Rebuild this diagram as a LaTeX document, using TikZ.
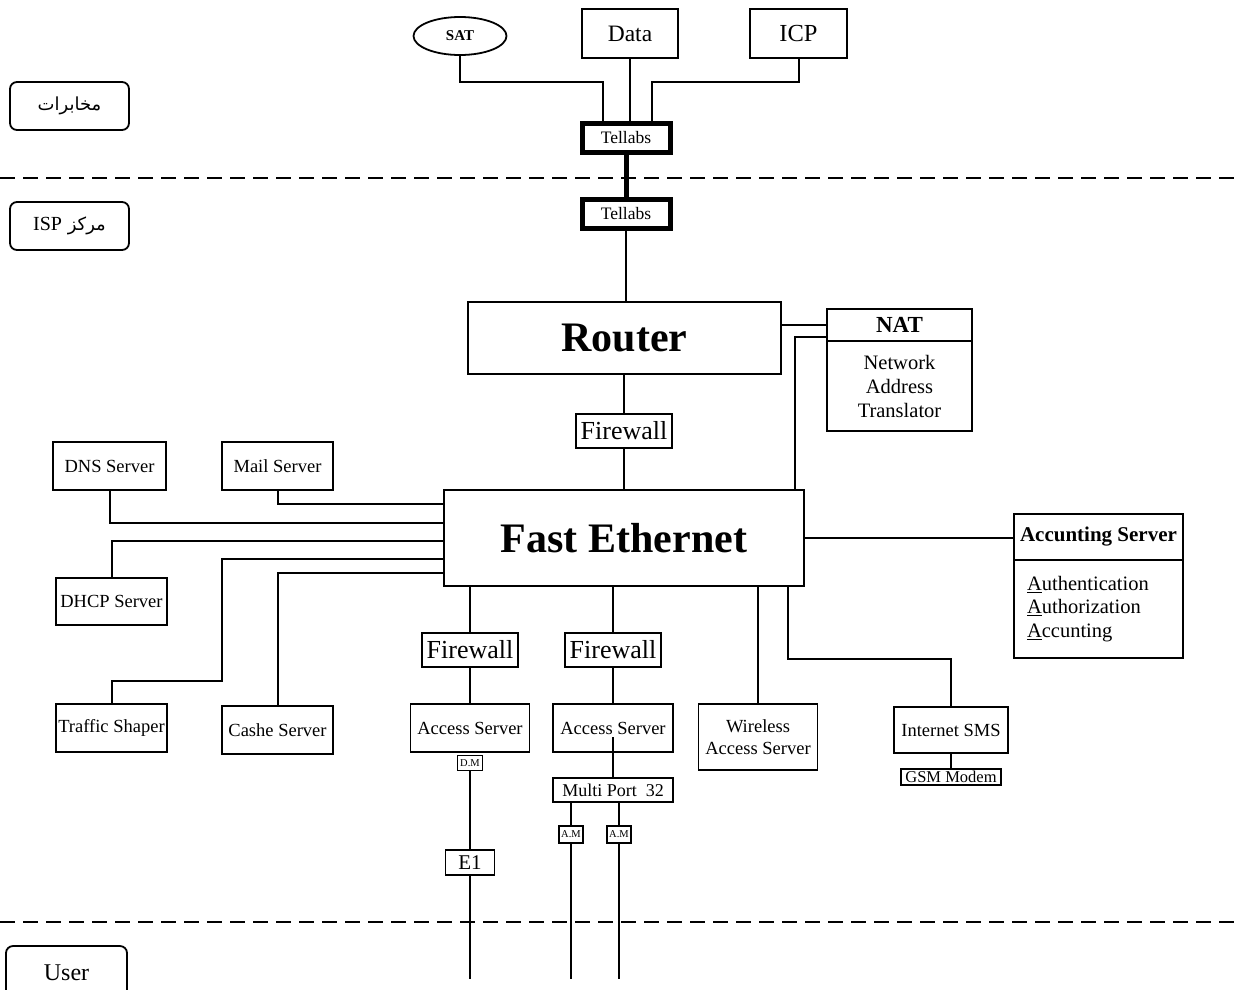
\documentclass[tikz,border=0pt]{standalone}
\usepackage{fontspec}
\setmainfont{Liberation Serif}
\newfontfamily\arabicfont[Script=Arabic]{DejaVu Sans}
\TeXXeTstate=1
\usepackage{tikz}
\usetikzlibrary{shapes.geometric}
\newcommand{\fsz}[2]{\fontsize{#1}{#2}\selectfont}

\begin{document}
\begin{tikzpicture}[x=1pt, y=-1pt,
    box/.style={draw, line width=1.8pt, fill=white, inner sep=0pt, align=center},
    telbox/.style={box, line width=5pt, minimum width=88pt, minimum height=29pt, font=\fsz{17.5}{20}},
    zone/.style={box, rounded corners=7pt, minimum width=119pt, minimum height=48pt},
    srv/.style={box, minimum height=48pt, font=\fsz{18.5}{22}},
    wall/.style={box, minimum width=96pt, minimum height=34pt, font=\fsz{26}{30}},
    tag/.style={box, line width=1.5pt, minimum height=15pt, font=\fsz{10.5}{12}},
    link/.style={line width=2pt},
    sepline/.style={line width=1.8pt, dash pattern=on 15pt off 8pt}]
    \useasboundingbox (0,0) rectangle (1242,989);
    \clip (0,0) rectangle (1242,989);
    % zone separators
    \draw[sepline] (0,178) -- (1242,178);
    \draw[sepline] (0,922) -- (1242,922);
    \coordinate (userend) at (0,979);
    \coordinate (bend) at (222,681);
    % zone labels
    \node[zone, font=\arabicfont\fsz{18}{22}] (telco) at (69.5,106) {\beginR مخابرات\endR};
    \node[zone, font=\arabicfont\fsz{18}{22}] (ispzone) at (69.5,226) {\beginR مركز \beginL{\normalfont\fsz{20}{22}ISP}\endL\endR};
    \node[zone, minimum width=121pt, minimum height=54pt, font=\fsz{24}{28}] (user) at (66.5,973) {User};
    % carrier side
    \node[box, ellipse, minimum width=93pt, minimum height=38pt, font=\bfseries\fsz{15}{18}] (sat) at (460,36) {SAT};
    \node[box, minimum width=96pt, minimum height=49pt, font=\fsz{23.5}{28}] (data) at (630,33.5) {Data};
    \node[box, minimum width=97pt, minimum height=49pt, font=\fsz{24.5}{28}] (icp) at (798.5,33.5) {ICP};
    \node[telbox] (tel1) at (626,138) {Tellabs};
    \node[telbox] (tel2) at (626,214) {Tellabs};
    \draw[link] (sat.south) -- ++(0,26) -| ([xshift=-23pt]tel1.north);
    \draw[link] (data.south) -- (data.south |- tel1.north);
    \draw[link] (icp.south) -- ++(0,23) -| ([xshift=26pt]tel1.north);
    \draw[line width=5pt] (tel1.south) -- (tel2.north);
    % core
    \node[box, minimum width=313pt, minimum height=72pt, font=\bfseries\fsz{42}{48}] (router) at (624.5,338) {Router};
    \node[wall] (fw1) at (624,431) {Firewall};
    \node[box, minimum width=360pt, minimum height=96pt, font=\bfseries\fsz{42}{48}] (fe) at (624,538) {Fast Ethernet};
    \node[box, minimum width=145pt, minimum height=32pt, font=\bfseries\fsz{23}{26}] (nat) at (899.5,325) {NAT};
    \node[box, minimum width=145pt, minimum height=90pt, font=\fsz{20.5}{24}] (natbody) at (899.5,386) {Network\\Address\\Translator};
    \draw[link] (tel2.south) -- (tel2.south |- router.north);
    \draw[link] (fw1.north |- router.south) -- (fw1.north);
    \draw[link] (fw1.south) -- (fe.north);
    \draw[link] (nat.west -| router.east) -- (nat.west);
    \draw[link] ([yshift=-12pt]nat.west) -| ([xshift=171pt]fe.north);
    % servers on the left
    \node[srv, minimum width=113pt] (dns) at (109.5,466) {DNS Server};
    \node[srv, minimum width=111pt] (mail) at (277.5,466) {Mail Server};
    \node[srv, minimum width=111pt, minimum height=47pt] (dhcp) at (111.5,601.5) {DHCP Server};
    \node[srv, minimum width=111pt] (shaper) at (111.5,728) {Traffic Shaper};
    \node[srv, minimum width=111pt] (cache) at (277.5,730) {Cashe Server};
    \draw[link] (mail.south) |- ([yshift=34pt]fe.west);
    \draw[link] (dns.south) |- ([yshift=15pt]fe.west);
    \draw[link] ([yshift=-3pt]fe.west) -| (dhcp.north);
    \draw[link] ([yshift=-21pt]fe.west) -| (bend) -| (shaper.north);
    \draw[link] ([yshift=-35pt]fe.west) -| (cache.north);
    % access side
    \node[wall] (fw2) at (470,650) {Firewall};
    \node[wall] (fw3) at (613,650) {Firewall};
    \node[srv, minimum width=119pt] (as1) at (470,728) {Access Server};
    \node[srv, minimum width=120pt] (as2) at (613,728) {Access Server};
    \node[tag, minimum width=25pt] (dm) at (470,763) {D.M};
    \node[box, minimum width=49pt, minimum height=25pt, font=\fsz{21}{24}] (e1) at (470,862.5) {E1};
    \node[box, minimum width=120pt, minimum height=24pt, font=\fsz{18}{21}] (mp) at (613,790) {Multi Port\ \ 32};
    \node[tag, minimum width=24pt, minimum height=17pt] (am1) at (571,834.5) {A.M};
    \node[tag, minimum width=24pt, minimum height=17pt] (am2) at (619,834.5) {A.M};
    \draw[link] (fw2.north |- fe.south) -- (fw2.north);
    \draw[link] (fw2.south) -- (as1.north);
    \draw[link] (dm.south) -- (e1.north);
    \draw[link] (e1.south) -- (e1.south |- userend);
    \draw[link] (fw3.north |- fe.south) -- (fw3.north);
    \draw[link] (fw3.south) -- (as2.north);
    \draw[link] ([yshift=-9pt]as2.center) -- (mp.north);
    \draw[link] (am1.north |- mp.south) -- (am1.north);
    \draw[link] (am2.north |- mp.south) -- (am2.north);
    \draw[link] (am1.south) -- (am1.south |- userend);
    \draw[link] (am2.south) -- (am2.south |- userend);
    % wireless, sms and accounting
    \node[srv, minimum width=119pt, minimum height=66pt] (wifi) at (758,737) {Wireless\\Access Server};
    \node[srv, minimum width=114pt, minimum height=46pt] (sms) at (951,730) {Internet SMS};
    \node[box, minimum width=100pt, minimum height=16pt, font=\fsz{16.5}{18}] (gsm) at (951,777) {GSM Modem};
    \node[box, minimum width=169pt, minimum height=46pt, font=\bfseries\fsz{21}{24}] (acct) at (1098.5,537) {Accunting Server};
    \node[box, minimum width=169pt, minimum height=98pt, text width=143pt, inner xsep=13pt, align=left, font=\fsz{20.5}{23.5}] (acctbody) at (1098.5,609) {\underline{A}uthentication\\\underline{A}uthorization\\\underline{A}ccunting};
    \draw[link] (wifi.north |- fe.south) -- (wifi.north);
    \draw[link] ([xshift=164pt]fe.south) |- ([yshift=47pt]sms.north) -- (sms.north);
    \draw[link] (sms.south) -- (gsm.north);
    \draw[link] (fe.east) -- (fe.east -| acct.west);
\end{tikzpicture}
\end{document}
